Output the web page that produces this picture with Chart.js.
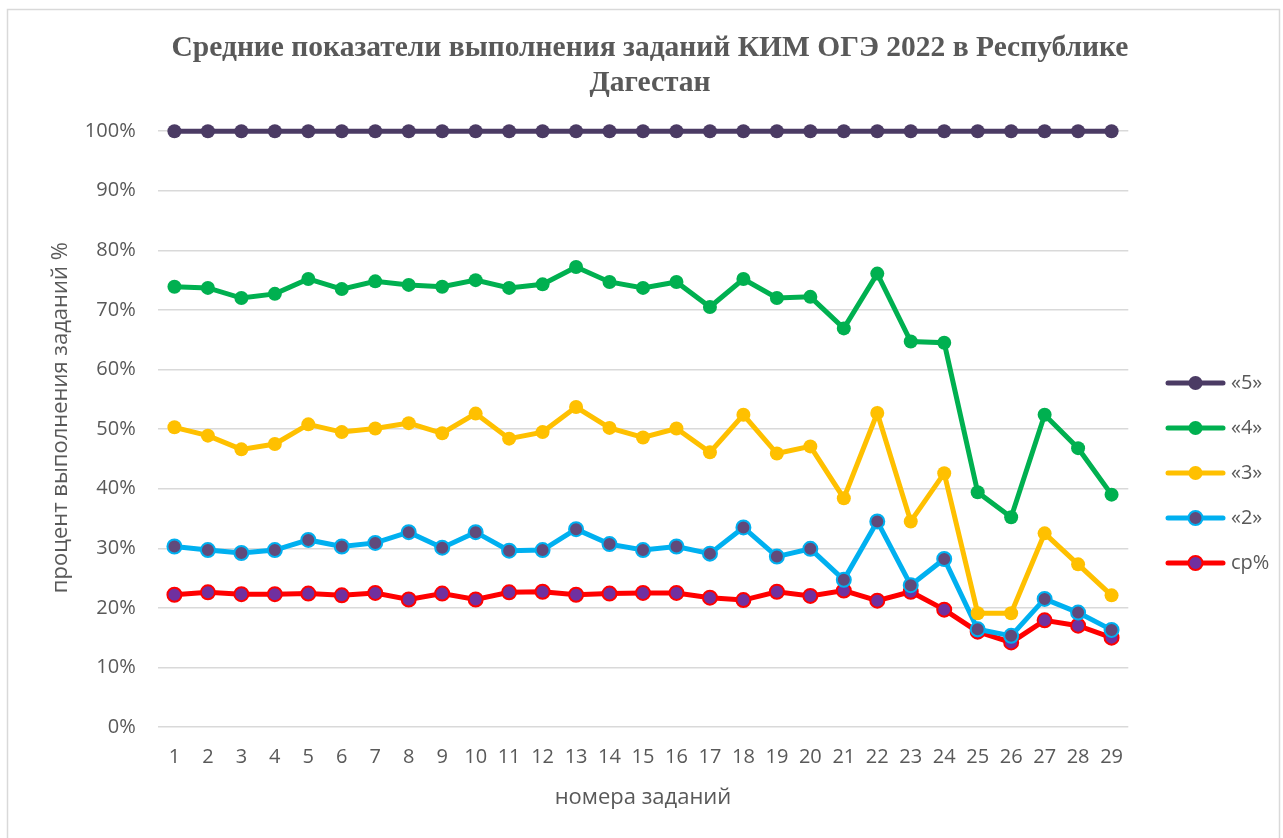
<!DOCTYPE html>
<html lang="ru">
<head>
<meta charset="utf-8">
<title>Средние показатели выполнения заданий КИМ ОГЭ 2022</title>
<script src="https://cdn.jsdelivr.net/npm/chart.js@4.4.1/dist/chart.umd.min.js"></script>
<style>
  html, body { margin: 0; padding: 0; background: #fff; }
  canvas { display: block; }
</style>
</head>
<body>
<canvas id="ogeChart" width="1283" height="838"></canvas>
<script>
// --- data (percent) ---
const taskNumbers = ["1","2","3","4","5","6","7","8","9","10","11","12","13","14","15",
  "16","17","18","19","20","21","22","23","24","25","26","27","28","29"];

const grade5 = [100,100,100,100,100,100,100,100,100,100,100,100,100,100,100,
  100,100,100,100,100,100,100,100,100,100,100,100,100,100];

const grade4 = [73.9,73.7,72.0,72.7,75.2,73.5,74.8,74.2,73.9,75.0,73.7,74.3,77.2,74.7,73.7,
  74.7,70.5,75.2,72.0,72.2,66.9,76.1,64.7,64.5,39.4,35.2,52.4,46.8,39.0];

const grade3 = [50.3,48.9,46.6,47.5,50.8,49.5,50.1,51.0,49.3,52.6,48.4,49.5,53.7,50.2,48.6,
  50.1,46.1,52.4,45.9,47.1,38.4,52.7,34.5,42.6,19.1,19.1,32.5,27.3,22.1];

const grade2 = [30.3,29.7,29.2,29.7,31.4,30.3,30.9,32.7,30.1,32.7,29.6,29.7,33.2,30.7,29.7,
  30.3,29.1,33.5,28.6,29.9,24.7,34.5,23.8,28.2,16.4,15.3,21.5,19.2,16.3];

const average = [22.2,22.6,22.3,22.3,22.4,22.1,22.5,21.4,22.4,21.4,22.6,22.7,22.2,22.4,22.5,
  22.5,21.7,21.3,22.7,22.0,22.9,21.2,22.7,19.7,16.0,14.2,17.9,17.0,15.0];

const seriesNames = ["«5»", "«4»", "«3»", "«2»", "ср%"];
const yTicks = [0, 10, 20, 30, 40, 50, 60, 70, 80, 90, 100];

const TEXT = "#595959";
const GRID = "#d9d9d9";
const FONT = "'Open Sans', 'DejaVu Sans', sans-serif";

function lineSet(label, data, line, fill, ring) {
  return {
    label: label,
    data: data,
    borderColor: line,
    backgroundColor: line,
    borderWidth: 5,
    pointRadius: 7,
    pointHoverRadius: 7,
    pointBackgroundColor: fill,
    pointBorderColor: ring,
    pointBorderWidth: ring === fill ? 0 : 2,
    tension: 0,
    clip: false
  };
}

// chart frame (thin grey border like the Excel chart area)
const framePlugin = {
  id: "frame",
  beforeDraw(chart) {
    const ctx = chart.ctx;
    ctx.save();
    ctx.fillStyle = "#ffffff";
    ctx.fillRect(0, 0, chart.width, chart.height);
    ctx.strokeStyle = GRID;
    ctx.lineWidth = 1.5;
    ctx.strokeRect(7.5, 9.5, 1272, 850);
    ctx.restore();
  }
};

// legend on the right: line segment with a marker, then the label
const sideLegend = {
  id: "sideLegend",
  afterDraw(chart) {
    const ctx = chart.ctx;
    const x0 = 1168, x1 = 1223, tx = 1231;
    let y = 383;
    ctx.save();
    chart.data.datasets.forEach(ds => {
      ctx.strokeStyle = ds.borderColor;
      ctx.lineWidth = 5;
      ctx.lineCap = "round";
      ctx.beginPath();
      ctx.moveTo(x0, y);
      ctx.lineTo(x1, y);
      ctx.stroke();
      ctx.beginPath();
      ctx.arc((x0 + x1) / 2, y, 7, 0, Math.PI * 2);
      ctx.fillStyle = ds.pointBackgroundColor;
      ctx.fill();
      if (ds.pointBorderWidth) {
        ctx.lineWidth = ds.pointBorderWidth;
        ctx.strokeStyle = ds.pointBorderColor;
        ctx.stroke();
      }
      ctx.fillStyle = TEXT;
      ctx.font = "20px " + FONT;
      ctx.textBaseline = "middle";
      ctx.textAlign = "left";
      ctx.fillText(ds.label, tx, y);
      y += 45;
    });
    ctx.restore();
  }
};

new Chart(document.getElementById("ogeChart"), {
  type: "line",
  data: {
    labels: taskNumbers,
    datasets: [
      lineSet(seriesNames[0], grade5, "#4b3b64", "#4b3b64", "#4b3b64"),
      lineSet(seriesNames[1], grade4, "#00b050", "#00b050", "#00b050"),
      lineSet(seriesNames[2], grade3, "#ffc000", "#ffc000", "#ffc000"),
      lineSet(seriesNames[3], grade2, "#00b0f0", "#604a7b", "#00b0f0"),
      lineSet(seriesNames[4], average, "#ff0000", "#7030a0", "#ff0000")
    ]
  },
  options: {
    responsive: false,
    animation: false,
    layout: { padding: { left: 17, right: 0, top: 0, bottom: 0 } },
    plugins: {
      legend: { display: false },
      tooltip: { enabled: false },
      title: {
        display: true,
        text: ["Средние показатели выполнения заданий КИМ ОГЭ 2022 в Республике", "Дагестан"],
        color: TEXT,
        font: { family: "'Liberation Serif', 'Times New Roman', serif", size: 29.5, weight: "bold", lineHeight: 1.19 },
        padding: { top: 31, bottom: 30 }
      }
    },
    scales: {
      x: {
        offset: true,
        grid: { display: false, drawTicks: false },
        border: { display: false },
        ticks: {
          color: TEXT,
          font: { family: FONT, size: 20 },
          padding: 18,
          maxRotation: 0,
          autoSkip: false
        },
        title: {
          display: true,
          text: "номера заданий",
          color: TEXT,
          font: { family: FONT, size: 22 },
          padding: { top: 0, bottom: 27 }
        },
        afterFit(scale) { scale.height = 111; }
      },
      y: {
        min: 0,
        max: 100,
        afterBuildTicks(scale) { scale.ticks = yTicks.map(v => ({ value: v })); },
        grid: { color: GRID, lineWidth: 1.5, drawTicks: false },
        border: { display: false },
        ticks: {
          color: TEXT,
          font: { family: FONT, size: 20 },
          padding: 22,
          callback: v => v + "%"
        },
        title: {
          display: true,
          text: "    процент выполнения заданий %",
          color: TEXT,
          font: { family: FONT, size: 22 },
          padding: { top: 31, bottom: 0 }
        },
        afterFit(scale) { scale.width = 140.7; }
      },
      // empty right axis that only reserves room for the legend
      legendSpace: {
        position: "right",
        display: true,
        min: 0,
        max: 100,
        grid: { display: false, drawTicks: false },
        border: { display: false },
        ticks: { display: false },
        afterFit(scale) { scale.width = 154.7; }
      }
    }
  },
  plugins: [framePlugin, sideLegend]
});
</script>
</body>
</html>
